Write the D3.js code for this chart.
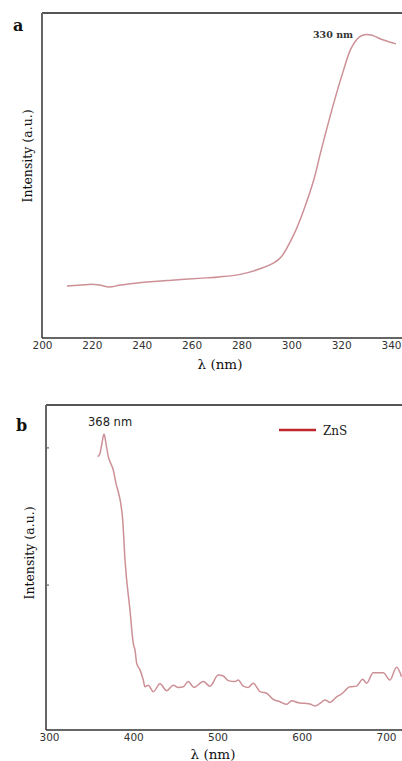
<!DOCTYPE html>
<html>
<head>
<meta charset="utf-8">
<script src="https://cdn.jsdelivr.net/npm/d3@7"></script>
<style>
  html, body { margin: 0; padding: 0; background: #fff; }
  svg { display: block; }
</style>
</head>
<body>
<div id="chart"></div>
<script>
// panel a: UV-vis absorption
const lambdaA = [210, 219, 223, 227, 231, 239, 252, 266, 271, 279, 286, 293, 296, 301, 305, 309, 312, 317, 321, 324, 327.5, 330, 332, 337, 342];
const intensityA = [16.0, 16.5, 16.3, 15.7, 16.2, 17.0, 17.8, 18.5, 18.8, 19.5, 20.9, 23.1, 25.0, 31.8, 39.4, 48.6, 57.8, 72.2, 82.5, 89.1, 92.7, 93.4, 93.2, 91.7, 90.5];
const ticksA = [200, 220, 240, 260, 280, 300, 320, 340];

// panel b: photoluminescence of ZnS
const lambdaB = [357.8, 360.5, 362.5, 365.3, 367.6, 370.4, 373.2, 376.3, 379.5, 382.2, 385.1, 387.5, 390.2, 396.1, 400.0, 402.1, 404.1, 408.0, 411.9, 413.9, 417.8, 423.8, 431.7, 439.7, 447.5, 453.4, 459.4, 465.3, 472.1, 483.1, 491.1, 500.9, 506.8, 512.8, 520.7, 524.6, 530.6, 536.5, 542.4, 550.4, 558.3, 566.2, 574.1, 582.1, 588.0, 595.8, 603.8, 609.7, 615.7, 621.6, 627.5, 633.5, 641.4, 647.3, 657.2, 665.1, 672.3, 677.0, 684.8, 696.7, 704.7, 712.6, 718.5];
const intensityB = [84.1, 85.1, 87.7, 91.1, 88.2, 84.1, 82.1, 80.0, 75.9, 73.3, 69.8, 64.6, 52.3, 36.9, 26.7, 24.6, 20.5, 18.5, 15.4, 13.3, 13.8, 11.8, 14.2, 12.1, 13.8, 13.1, 13.3, 14.9, 13.1, 14.9, 13.5, 16.9, 16.6, 15.2, 14.9, 15.4, 13.5, 13.1, 14.4, 11.8, 11.3, 9.4, 8.7, 7.9, 9.0, 8.4, 8.2, 8.0, 7.4, 8.2, 9.2, 8.5, 10.2, 11.1, 13.3, 13.5, 15.6, 14.4, 17.6, 17.6, 15.4, 19.3, 16.4];
const ticksB = [300, 400, 500, 600, 700];
const yTicksB = [44.6, 86.8];

const W = 402, H = 761;
const curveColor = "#cc9096";
const serif = "'DejaVu Serif', 'Liberation Serif', serif";
const sans = "'DejaVu Sans', Verdana, sans-serif";

const svg = d3.select("#chart").append("svg")
  .attr("width", W)
  .attr("height", H);

function drawPanel(g, p) {
  const x = d3.scaleLinear().domain(p.xDomain).range(p.xRange);
  const y = d3.scaleLinear().domain([0, 100]).range([p.bottom, p.top]);

  // frame: top, left, bottom
  g.append("line").attr("x1", p.left).attr("x2", W).attr("y1", p.top).attr("y2", p.top)
    .attr("stroke", "#555").attr("stroke-width", 2);
  g.append("line").attr("x1", p.left).attr("x2", p.left).attr("y1", p.top).attr("y2", p.bottom)
    .attr("stroke", "#666").attr("stroke-width", 2);

  const xAxis = g.append("g")
    .attr("transform", `translate(0,${p.bottom})`)
    .call(d3.axisBottom(x).tickValues(p.ticks).tickSize(0).tickPadding(4).tickFormat(d3.format("d")));
  xAxis.select(".domain").remove();
  xAxis.selectAll("text")
    .style("font-family", sans)
    .style("font-size", "10.5px")
    .style("fill", "#333");
  g.append("line").attr("x1", p.left).attr("x2", W).attr("y1", p.bottom).attr("y2", p.bottom)
    .attr("stroke", "#333").attr("stroke-width", 1.6);

  if (p.yTicks) {
    p.yTicks.forEach(t => {
      g.append("line").attr("x1", p.left).attr("x2", p.left + 3)
        .attr("y1", y(t)).attr("y2", y(t))
        .attr("stroke", "#666").attr("stroke-width", 1.2);
    });
  }

  const line = d3.line()
    .x((d, i) => x(p.xs[i]))
    .y(d => y(d))
    .curve(p.curve);
  g.append("path")
    .datum(p.ys)
    .attr("d", line)
    .attr("fill", "none")
    .attr("stroke", curveColor)
    .attr("stroke-width", 1.5);

  // panel letter
  g.append("text").attr("x", p.letterX).attr("y", p.letterY)
    .text(p.letter)
    .style("font-family", serif).style("font-weight", "bold").style("font-size", "16px").style("fill", "#111");

  // y label
  g.append("text")
    .attr("transform", `translate(${p.yLabelX},${p.yLabelY}) rotate(-90)`)
    .attr("text-anchor", "middle")
    .text("Intensity (a.u.)")
    .style("font-family", serif).style("font-size", "12.5px").style("fill", "#111");

  // x label
  g.append("text").attr("x", p.xLabelX).attr("y", p.xLabelY)
    .attr("text-anchor", "middle")
    .text("λ (nm)")
    .style("font-family", serif).style("font-size", "13.5px").style("fill", "#111");

  return {x, y};
}

// panel a
const ga = svg.append("g");
drawPanel(ga, {
  xDomain: [200, 340], xRange: [42, 391],
  top: 13, bottom: 338, left: 42,
  ticks: ticksA, xs: lambdaA, ys: intensityA,
  curve: d3.curveCatmullRom.alpha(0.5),
  letter: "a", letterX: 13, letterY: 31,
  yLabelX: 32, yLabelY: 156,
  xLabelX: 220, xLabelY: 369
});
ga.append("text").attr("x", 313).attr("y", 38)
  .text("330 nm")
  .style("font-family", serif).style("font-weight", "bold").style("font-size", "9.5px").style("fill", "#333");

// panel b
const gb = svg.append("g");
drawPanel(gb, {
  xDomain: [300, 700], xRange: [49, 386],
  top: 405, bottom: 730, left: 46,
  ticks: ticksB, xs: lambdaB, ys: intensityB, yTicks: yTicksB,
  curve: d3.curveMonotoneX,
  letter: "b", letterX: 16, letterY: 431,
  yLabelX: 34, yLabelY: 553,
  xLabelX: 213, xLabelY: 759
});
gb.append("text").attr("x", 88).attr("y", 426)
  .text("368 nm")
  .style("font-family", sans).style("font-size", "11.5px").style("fill", "#222");

// legend
gb.append("line").attr("x1", 279).attr("x2", 316).attr("y1", 430).attr("y2", 430)
  .attr("stroke", "#c0272d").attr("stroke-width", 2.5);
gb.append("text").attr("x", 323).attr("y", 435)
  .text("ZnS")
  .style("font-family", serif).style("font-size", "12px").style("fill", "#222");
</script>
</body>
</html>
